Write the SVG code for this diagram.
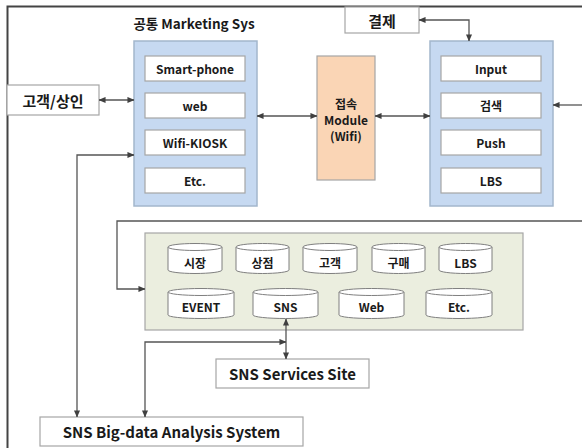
<svg xmlns="http://www.w3.org/2000/svg" width="582" height="448" viewBox="0 0 582 448">
<defs>
<marker id="ah" viewBox="0 0 8 8" refX="7.5" refY="4" markerWidth="7" markerHeight="7" markerUnits="userSpaceOnUse" orient="auto-start-reverse">
<path d="M0,0.5 L8,4 L0,7.5 Z" fill="#404040"/>
</marker>
<style>
.t{font-family:"Noto Sans CJK KR","Noto Sans",sans-serif;font-weight:bold;fill:#1a1a1a;text-anchor:middle;dominant-baseline:central}
.s12{font-size:12px}
.s13{font-size:13.5px}
.s15{font-size:15px}
.box{fill:#ffffff;stroke:#a6a6a6;stroke-width:1.2}
.blue{fill:#c6d9f1;stroke:#a3b6cc;stroke-width:1.5}
.cyl{fill:#ffffff;stroke:#7f7f7f;stroke-width:1}
.ln{fill:none;stroke:#555555;stroke-width:1.3}
</style>
</defs>
<rect x="0" y="0" width="582" height="448" fill="#ffffff"/>
<path d="M7.5,448 V6.5 H582" fill="none" stroke="#444444" stroke-width="2"/>

<g id="customer">
<rect class="box" x="7" y="85" width="92" height="30"/>
<text class="t s15" x="53" y="100">고객/상인</text>
</g>

<g id="marketing">
<text class="t s13" x="194" y="23">공통 Marketing Sys</text>
<rect class="blue" x="134" y="41" width="123" height="165"/>
<rect class="box" x="145" y="56" width="100" height="25"/>
<text class="t s12" x="195" y="68.5">Smart-phone</text>
<rect class="box" x="145" y="93" width="100" height="25"/>
<text class="t s12" x="195" y="105.5">web</text>
<rect class="box" x="145" y="130" width="100" height="25"/>
<text class="t s12" x="195" y="142.5">Wifi-KIOSK</text>
<rect class="box" x="145" y="168" width="100" height="25"/>
<text class="t s12" x="195" y="180.5">Etc.</text>
</g>

<g id="module">
<rect x="317" y="56" width="58" height="124" fill="#fad5b5" stroke="#a6a6a6" stroke-width="1.2"/>
<text class="t s12" x="346" y="103">접속</text>
<text class="t s12" x="346" y="119">Module</text>
<text class="t s12" x="346" y="135">(Wifi)</text>
</g>

<g id="payment">
<rect class="box" x="345" y="7" width="74" height="26"/>
<text class="t s15" x="382" y="20">결제</text>
</g>

<g id="service">
<rect class="blue" x="430" y="41" width="123" height="165"/>
<rect class="box" x="441" y="56" width="100" height="25"/>
<text class="t s12" x="491" y="68.5">Input</text>
<rect class="box" x="441" y="93" width="100" height="25"/>
<text class="t s12" x="491" y="105.5">검색</text>
<rect class="box" x="441" y="130" width="100" height="25"/>
<text class="t s12" x="491" y="142.5">Push</text>
<rect class="box" x="441" y="168" width="100" height="25"/>
<text class="t s12" x="491" y="180.5">LBS</text>
</g>

<g id="database">
<rect x="145" y="233" width="378" height="97" fill="#ebeedf" stroke="#a6a6a6" stroke-width="1.2"/>
<g id="db-market">
<path class="cyl" d="M168,247 V270 A27,3.5 0 0 0 222,270 V247"/>
<ellipse class="cyl" cx="195" cy="247" rx="27" ry="3.5"/>
<text class="t s12" x="195" y="262">시장</text>
</g>
<g id="db-store">
<path class="cyl" d="M236,247 V270 A26.5,3.5 0 0 0 289,270 V247"/>
<ellipse class="cyl" cx="262.5" cy="247" rx="26.5" ry="3.5"/>
<text class="t s12" x="262.5" y="262">상점</text>
</g>
<g id="db-customer">
<path class="cyl" d="M303,247 V270 A27,3.5 0 0 0 357,270 V247"/>
<ellipse class="cyl" cx="330" cy="247" rx="27" ry="3.5"/>
<text class="t s12" x="330" y="262">고객</text>
</g>
<g id="db-purchase">
<path class="cyl" d="M372,247 V270 A26.5,3.5 0 0 0 425,270 V247"/>
<ellipse class="cyl" cx="398.5" cy="247" rx="26.5" ry="3.5"/>
<text class="t s12" x="398.5" y="262">구매</text>
</g>
<g id="db-lbs">
<path class="cyl" d="M439,247 V270 A26.5,3.5 0 0 0 492,270 V247"/>
<ellipse class="cyl" cx="465.5" cy="247" rx="26.5" ry="3.5"/>
<text class="t s12" x="465.5" y="262">LBS</text>
</g>
<g id="db-event">
<path class="cyl" d="M168,292 V315 A33,3.5 0 0 0 234,315 V292"/>
<ellipse class="cyl" cx="201" cy="292" rx="33" ry="3.5"/>
<text class="t s12" x="201" y="306">EVENT</text>
</g>
<g id="db-sns">
<path class="cyl" d="M253,292 V315 A32.5,3.5 0 0 0 318,315 V292"/>
<ellipse class="cyl" cx="285.5" cy="292" rx="32.5" ry="3.5"/>
<text class="t s12" x="285.5" y="306">SNS</text>
</g>
<g id="db-web">
<path class="cyl" d="M339,292 V315 A32.5,3.5 0 0 0 404,315 V292"/>
<ellipse class="cyl" cx="371.5" cy="292" rx="32.5" ry="3.5"/>
<text class="t s12" x="371.5" y="306">Web</text>
</g>
<g id="db-etc">
<path class="cyl" d="M426,292 V315 A33,3.5 0 0 0 492,315 V292"/>
<ellipse class="cyl" cx="459" cy="292" rx="33" ry="3.5"/>
<text class="t s12" x="459" y="306">Etc.</text>
</g>
</g>

<g id="sns-site">
<rect class="box" x="216" y="359" width="153" height="29"/>
<text class="t s15" x="292.5" y="373.5">SNS Services Site</text>
</g>

<g id="bigdata">
<rect class="box" x="40" y="417" width="263" height="29"/>
<text class="t s15" x="171.5" y="431.5">SNS Big-data Analysis System</text>
</g>

<g id="connectors">
<path class="ln" d="M99,100 H134" marker-start="url(#ah)" marker-end="url(#ah)"/>
<path class="ln" d="M257,116 H317" marker-start="url(#ah)" marker-end="url(#ah)"/>
<path class="ln" d="M375,116 H430" marker-start="url(#ah)" marker-end="url(#ah)"/>
<path class="ln" d="M419,20 H469 V41" marker-start="url(#ah)" marker-end="url(#ah)"/>
<path class="ln" d="M582,105 H553" marker-end="url(#ah)"/>
<path class="ln" d="M582,221 H117 V289 H145" marker-end="url(#ah)"/>
<path class="ln" d="M134,155 H77 V417" marker-start="url(#ah)" marker-end="url(#ah)"/>
<path class="ln" d="M286,319 V359" marker-start="url(#ah)" marker-end="url(#ah)"/>
<path class="ln" d="M145,417 V342 H286" marker-start="url(#ah)" marker-end="url(#ah)"/>
</g>
</svg>
